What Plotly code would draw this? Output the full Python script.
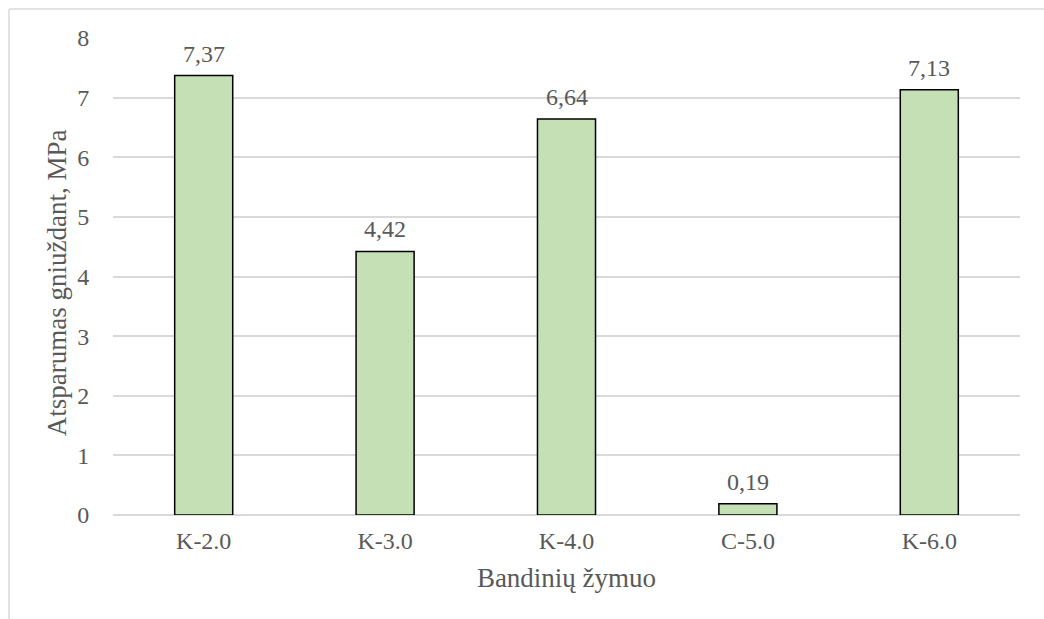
import plotly.graph_objects as go

# Sample labels and compressive strength values (MPa)
categories = ["K-2.0", "K-3.0", "K-4.0", "C-5.0", "K-6.0"]
strength = [7.37, 4.42, 6.64, 0.19, 7.13]
value_labels = ["7,37", "4,42", "6,64", "0,19", "7,13"]

y_ticks = [0, 1, 2, 3, 4, 5, 6, 7, 8]

FONT = "Liberation Serif"
TEXT = "#595959"
GRID = "#D9D9D9"
SIZE = 24
TITLE_SIZE = 27

fig = go.Figure()
fig.add_trace(go.Bar(
    x=categories,
    y=strength,
    marker=dict(color="#C5E0B4", line=dict(color="#000000", width=1.5)),
    hoverinfo="x+y",
))

# Value labels above each bar
for cat, val, lab in zip(categories, strength, value_labels):
    fig.add_annotation(
        x=cat, y=val, text=lab, showarrow=False,
        yanchor="bottom", yshift=7,
        font=dict(family=FONT, size=SIZE, color=TEXT),
    )

# Vertical axis title
fig.add_annotation(
    xref="paper", yref="paper", x=-0.0617, y=0.486,
    text="Atsparumas gniuždant, MPa", textangle=-90, showarrow=False,
    xanchor="center", yanchor="middle",
    font=dict(family=FONT, size=TITLE_SIZE, color=TEXT),
)

fig.update_layout(
    width=1044, height=619,
    margin=dict(l=113, r=24, t=38, b=104),
    paper_bgcolor="white", plot_bgcolor="white",
    bargap=0.68,
    showlegend=False,
    font=dict(family=FONT, size=SIZE, color=TEXT),
    xaxis=dict(
        title=dict(text="Bandinių žymuo", font=dict(family=FONT, size=TITLE_SIZE, color=TEXT), standoff=15),
        showgrid=False, showline=False, zeroline=False,
        ticks="outside", ticklen=4, tickcolor="rgba(0,0,0,0)",
        tickfont=dict(family=FONT, size=SIZE, color=TEXT),
    ),
    yaxis=dict(
        range=[0, 8], tickvals=y_ticks, ticktext=[str(v) for v in y_ticks],
        showgrid=True, gridcolor=GRID, gridwidth=1.5,
        zeroline=True, zerolinecolor=GRID, zerolinewidth=1.5,
        showline=False,
        ticks="outside", ticklen=18, tickcolor="rgba(0,0,0,0)",
        tickfont=dict(family=FONT, size=SIZE, color=TEXT),
    ),
    shapes=[
        # Chart-area frame (top and left edges visible)
        dict(type="line", xref="paper", yref="paper",
             x0=-104 / 907, x1=1.1, y0=1 + 29 / 477, y1=1 + 29 / 477,
             line=dict(color=GRID, width=1.5)),
        dict(type="line", xref="paper", yref="paper",
             x0=-104 / 907, x1=-104 / 907, y0=1 + 29 / 477, y1=-0.3,
             line=dict(color=GRID, width=1.5)),
    ],
)

fig.write_html("out.html")
